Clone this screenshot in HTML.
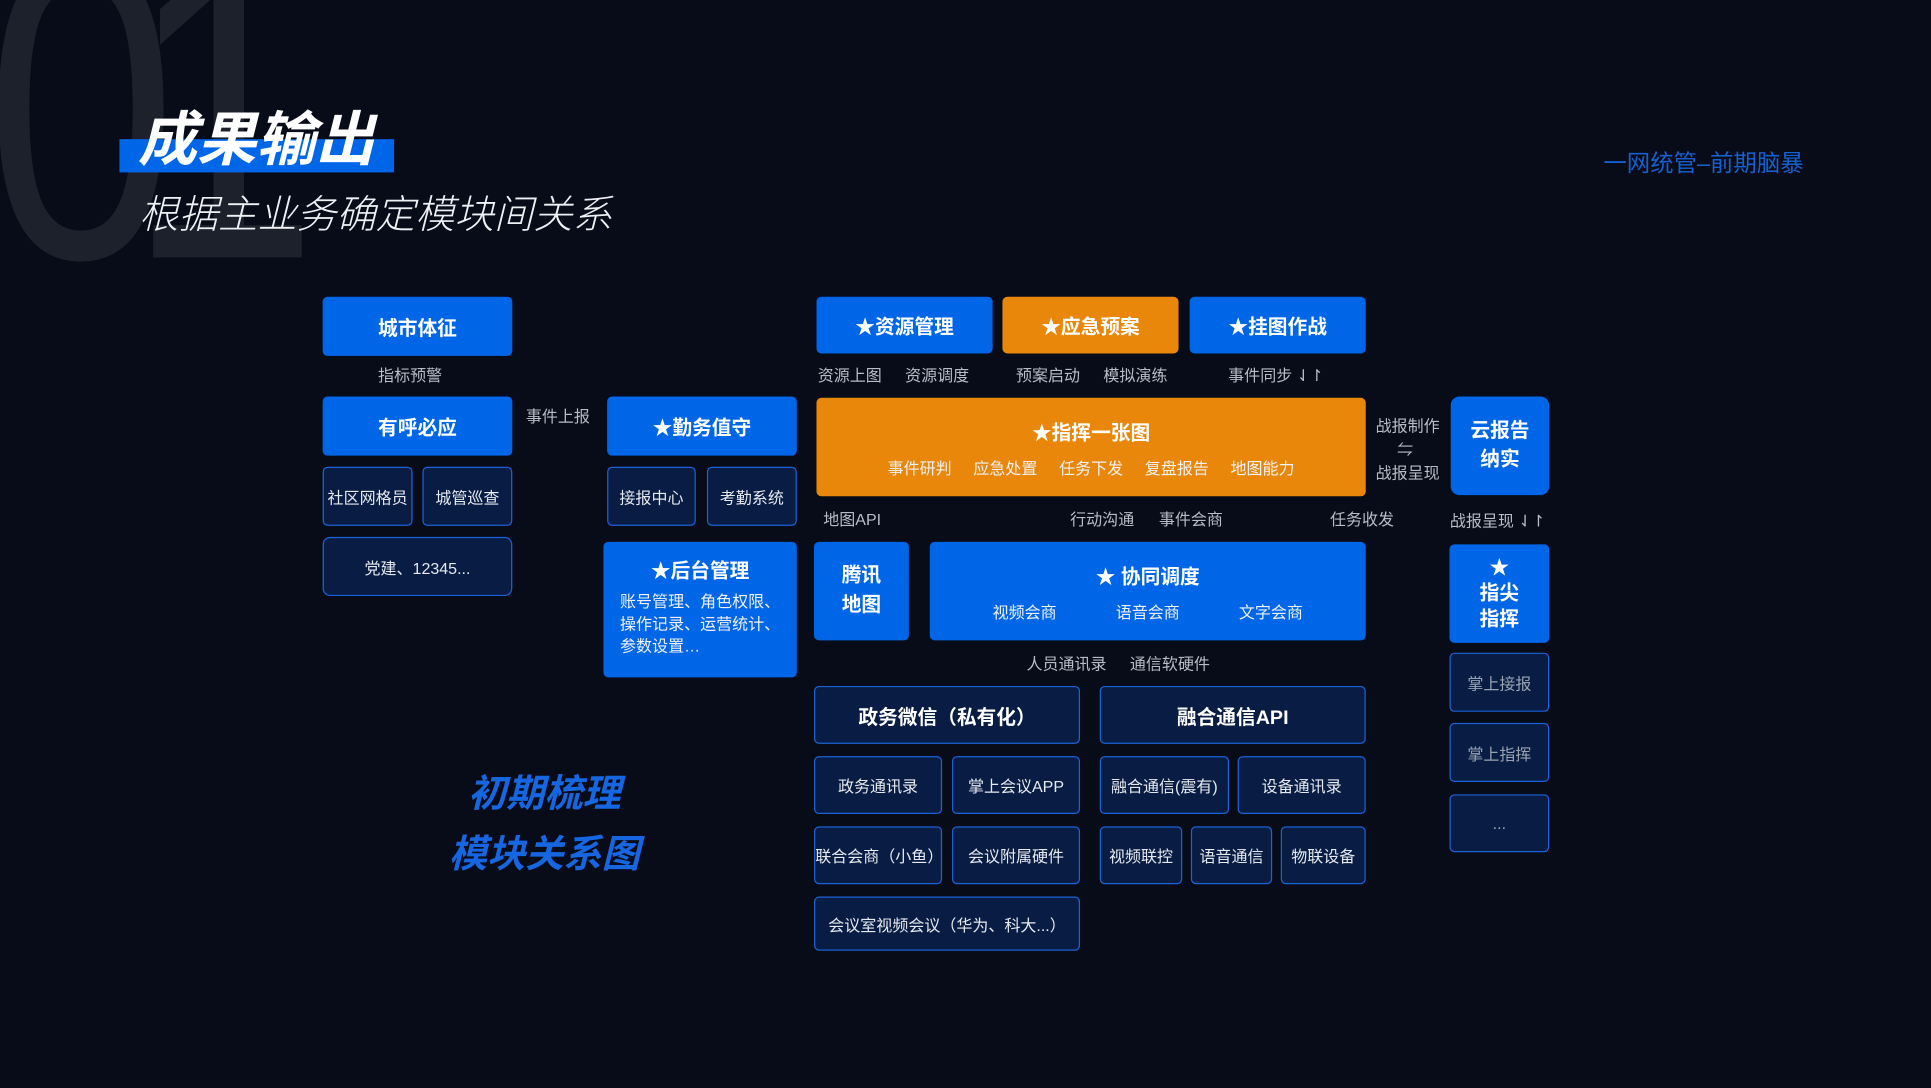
<!DOCTYPE html>
<html><head><meta charset="utf-8"><style>
html,body{margin:0;padding:0;background:#080c18;width:1931px;height:1088px;overflow:hidden}
#w{position:absolute;left:0;top:0;width:1568px;height:883px;transform:scale(1.2315);transform-origin:0 0;font-family:"Liberation Sans","Noto Sans CJK SC",sans-serif;color:#fff}
.b{position:absolute;box-sizing:border-box;border-radius:4px;display:flex;align-items:center;justify-content:center;text-align:center;flex-direction:column}
.bl{background:#0066e8;font-weight:bold;font-size:16px}
.or{background:#e8870a;font-weight:bold;font-size:16px}
.dk{background:#081c44;border:1px solid #1a62d8;font-size:13px;color:#e6e9ef}
.dk2{background:#081c44;border:1px solid #1a62d8;font-size:13px;color:#9aa3b2}
.l{position:absolute;font-size:13px;color:#b8bcc6;white-space:nowrap;transform:translate(-50%,-50%)}
.sub{font-weight:normal;font-size:13px;color:#f0f2f6}
.dg{position:absolute;font-size:350px;color:#1d212b;font-family:'Liberation Sans',sans-serif;line-height:1;transform:scaleX(.8);transform-origin:0 0}
</style></head><body><div id="w">
<div class="dg" style="left:-12px;top:-86px">0</div>
<div class="dg" style="left:103px;top:-86px">1</div>
<div style="position:absolute;left:97px;top:113px;width:223px;height:27px;background:#0066e8"></div>
<div style="position:absolute;left:112px;top:89px;font-size:48px;font-weight:bold;font-style:italic;line-height:1.1;white-space:nowrap">成果输出</div>
<div style="position:absolute;left:113px;top:157px;font-size:32px;font-style:italic;font-weight:300;line-height:1.1;white-space:nowrap;color:#eef0f4">根据主业务确定模块间关系</div>
<div style="position:absolute;left:1302px;top:118px;font-size:19px;color:#1560d0;white-space:nowrap">一网统管–前期脑暴</div>

<div class="b bl" style="left:262px;top:241px;width:154px;height:48px">城市体征</div>
<div class="l" style="left:333px;top:304px">指标预警</div>
<div class="b bl" style="left:262px;top:322px;width:154px;height:48px">有呼必应</div>
<div class="l" style="left:453px;top:337px">事件上报</div>
<div class="b dk" style="left:262px;top:379px;width:73px;height:48px">社区网格员</div>
<div class="b dk" style="left:343px;top:379px;width:73px;height:48px">城管巡查</div>
<div class="b dk" style="left:262px;top:436px;width:154px;height:48px;border-radius:6px">党建、12345...</div>

<div class="b bl" style="left:493px;top:322px;width:154px;height:48px">★勤务值守</div>
<div class="b dk" style="left:493px;top:379px;width:72px;height:48px">接报中心</div>
<div class="b dk" style="left:574px;top:379px;width:73px;height:48px">考勤系统</div>
<div class="b bl" style="left:490px;top:440px;width:157px;height:110px;justify-content:flex-start;padding-top:10px">★后台管理
<div class="sub" style="text-align:left;line-height:18px;margin-top:6px;font-size:13px">账号管理、角色权限、<br>操作记录、运营统计、<br>参数设置…</div></div>

<div class="b bl" style="left:663px;top:241px;width:143px;height:46px">★资源管理</div>
<div class="b or" style="left:814px;top:241px;width:143px;height:46px">★应急预案</div>
<div class="b bl" style="left:966px;top:241px;width:143px;height:46px">★挂图作战</div>
<div class="l" style="left:690px;top:304px">资源上图</div>
<div class="l" style="left:761px;top:304px">资源调度</div>
<div class="l" style="left:851px;top:304px">预案启动</div>
<div class="l" style="left:922px;top:304px">模拟演练</div>
<div class="l" style="left:1036px;top:304px">事件同步 ⇃↾</div>

<div class="b or" style="left:663px;top:323px;width:446px;height:80px">★指挥一张图
<div class="sub" style="margin-top:8px;word-spacing:14px">事件研判 应急处置 任务下发 复盘报告 地图能力</div></div>
<div class="l" style="left:1143px;top:345px">战报制作</div>
<div class="l" style="left:1141px;top:364px">⇋</div>
<div class="l" style="left:1143px;top:383px">战报呈现</div>
<div class="b bl" style="left:1178px;top:322px;width:80px;height:80px;border-radius:7px;line-height:23px">云报告<br>纳实</div>

<div class="l" style="left:692px;top:421px">地图API</div>
<div class="l" style="left:895px;top:421px">行动沟通</div>
<div class="l" style="left:967px;top:421px">事件会商</div>
<div class="l" style="left:1106px;top:421px">任务收发</div>
<div class="l" style="left:1216px;top:422px">战报呈现 ⇃↾</div>

<div class="b bl" style="left:661px;top:440px;width:77px;height:80px;line-height:24px">腾讯<br>地图</div>
<div class="b bl" style="left:755px;top:440px;width:354px;height:80px">★ 协同调度
<div class="sub" style="margin-top:8px;display:flex;justify-content:space-around;width:300px"><span>视频会商</span><span>语音会商</span><span>文字会商</span></div></div>
<div class="b bl" style="left:1177px;top:442px;width:81px;height:80px;line-height:21px">★<br>指尖<br>指挥</div>

<div class="l" style="left:866px;top:538px">人员通讯录</div>
<div class="l" style="left:950px;top:538px">通信软硬件</div>

<div class="b dk" style="left:661px;top:557px;width:216px;height:47px;font-size:16px;font-weight:bold;color:#fff">政务微信（私有化）</div>
<div class="b dk" style="left:893px;top:557px;width:216px;height:47px;font-size:16px;font-weight:bold;color:#fff">融合通信API</div>
<div class="b dk" style="left:661px;top:614px;width:104px;height:47px">政务通讯录</div>
<div class="b dk" style="left:773px;top:614px;width:104px;height:47px">掌上会议APP</div>
<div class="b dk" style="left:893px;top:614px;width:105px;height:47px">融合通信(震有)</div>
<div class="b dk" style="left:1005px;top:614px;width:104px;height:47px">设备通讯录</div>
<div class="b dk" style="left:661px;top:671px;width:104px;height:47px">联合会商（小鱼）</div>
<div class="b dk" style="left:773px;top:671px;width:104px;height:47px">会议附属硬件</div>
<div class="b dk" style="left:893px;top:671px;width:67px;height:47px">视频联控</div>
<div class="b dk" style="left:967px;top:671px;width:66px;height:47px">语音通信</div>
<div class="b dk" style="left:1040px;top:671px;width:69px;height:47px">物联设备</div>
<div class="b dk" style="left:661px;top:728px;width:216px;height:44px">会议室视频会议（华为、科大...）</div>

<div class="b dk2" style="left:1177px;top:530px;width:81px;height:48px">掌上接报</div>
<div class="b dk2" style="left:1177px;top:587px;width:81px;height:48px">掌上指挥</div>
<div class="b dk2" style="left:1177px;top:645px;width:81px;height:47px">...</div>

<div style="position:absolute;left:342px;top:620px;width:200px;text-align:center;font-size:31px;font-weight:bold;font-style:italic;color:#1566e0;line-height:49px">初期梳理<br>模块关系图</div>
</div></body></html>
